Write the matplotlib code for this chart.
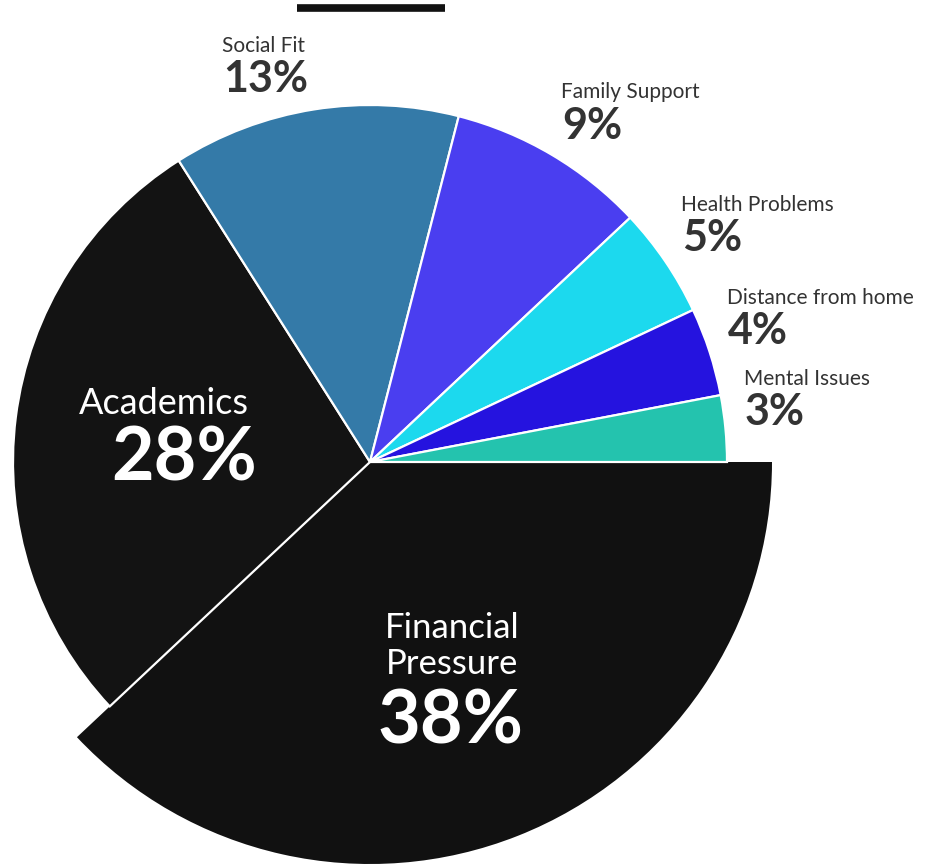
import matplotlib.pyplot as plt

# data
reasons = ['Financial\nPressure', 'Academics', 'Social Fit', 'Family Support',
           'Health Problems', 'Distance from home', 'Mental Issues']
shares = [38, 28, 13, 9, 5, 4, 3]
colors = ['#111111', '#131313', '#347aa8', '#4a3ef0', '#1cd9ee', '#2513df', '#24c3ae']

W, H = 932, 864
plt.rcParams['font.family'] = ['Lato', 'DejaVu Sans']

fig = plt.figure(figsize=(W / 100, H / 100), dpi=100)
ax = fig.add_axes([0, 0, 1, 1])

cx, cy = 370, H - 462
wedges, _ = ax.pie(shares, colors=colors, startangle=0, counterclock=False,
                   radius=357, center=(cx, cy),
                   wedgeprops=dict(edgecolor='white', linewidth=1.6))
# the biggest slice sticks out further
wedges[0].set_radius(402)
wedges[0].set_edgecolor('none')

ax.set_xlim(0, W)
ax.set_ylim(0, H)
ax.set_aspect('equal')
ax.axis('off')

# short bar at the top
ax.plot([297, 445], [H - 8, H - 8], color='#111111', linewidth=5.5, solid_capstyle='butt')

dark = '#333333'
# outside labels: (x, y of name, y of percent)
outside = {
    2: (222, 46, 79),
    3: (561, 92, 126),
    4: (681, 205, 238),
    5: (727, 298, 331),
    6: (744, 379, 412),
}
for i, (x, yn, yp) in outside.items():
    ax.text(x, H - yn, reasons[i], color=dark, fontsize=15, ha='left', va='center')
    ax.text(x + 1, H - yp, f'{shares[i]}%', color=dark, fontsize=31, fontweight='bold',
            ha='left', va='center')

# inside labels
ax.text(164, H - 403, reasons[1], color='white', fontsize=26, ha='center', va='center')
ax.text(184, H - 459, f'{shares[1]}%', color='white', fontsize=53, fontweight='bold',
        ha='center', va='center')

ax.text(452, H - 646, reasons[0], color='white', fontsize=25, ha='center', va='center',
        linespacing=1.15)
ax.text(451, H - 722, f'{shares[0]}%', color='white', fontsize=53, fontweight='bold',
        ha='center', va='center')

fig.savefig('out.png', dpi=100)
